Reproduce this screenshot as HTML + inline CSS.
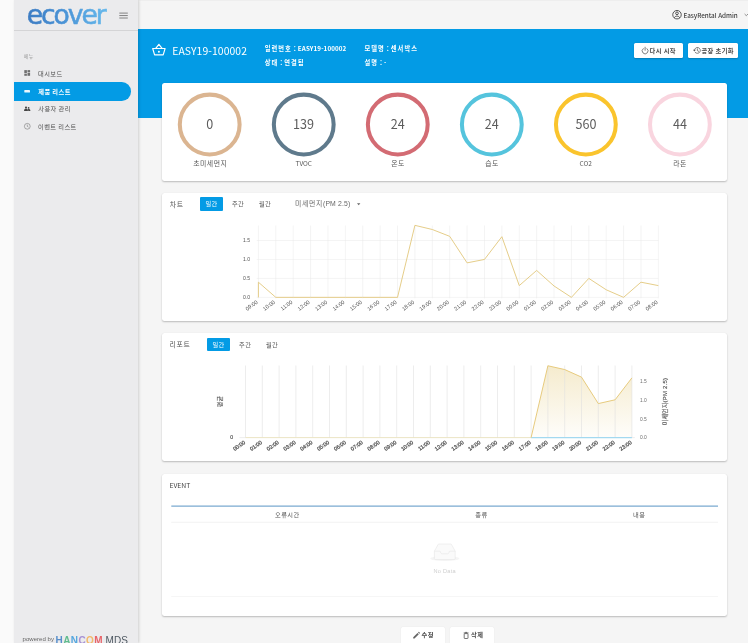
<!DOCTYPE html>
<html lang="ko"><head><meta charset="utf-8"><title>ecover</title><style>
*{box-sizing:border-box;margin:0;padding:0}
html,body{width:748px;height:643px;overflow:hidden;background:#f5f5f5;font-family:"Liberation Sans", "Noto Sans CJK KR", sans-serif;color:#444}
body{position:relative}
.abs{position:absolute}
.t{position:absolute;white-space:nowrap;line-height:1}
#strip{left:0;top:0;width:14px;height:643px;background:#fafafa}
#side{left:14px;top:0;width:123.5px;height:643px;background:#ebebed;box-shadow:1px 0 2.5px rgba(0,0,0,.16)}
#logoline{left:14px;top:29.5px;width:123.5px;height:1.2px;background:#d4d4d6}
#top{left:137.5px;top:0;width:611px;height:29px;background:#f5f5f5;box-shadow:inset 0 1px 0 #eee}
#hero{left:137.5px;top:29px;width:611px;height:89px;background:#039be5}
.card{position:absolute;left:162px;width:564.7px;background:#fff;border-radius:2.5px;box-shadow:0 1px 1.8px rgba(0,0,0,.24),0 0 1px rgba(0,0,0,.06)}
#active{left:14px;top:82.4px;width:117px;height:18.4px;background:#039be5;border-radius:0 9.2px 9.2px 0}
.btn{position:absolute;background:#fff;border-radius:1.5px;box-shadow:0 0.5px 1.5px rgba(0,0,0,.2)}
svg{position:absolute;left:0;top:0;overflow:visible}
svg text{font-family:"Liberation Sans", "Noto Sans CJK KR", sans-serif}
</style></head><body>
<div class="abs" id="strip"></div>
<div class="abs" id="top"></div>
<div class="abs" id="hero"></div>
<div class="abs" id="side"></div>
<div class="abs" id="logoline"></div>
<svg width="748" height="643" viewBox="0 0 748 643" id="logo"><defs><linearGradient id="lg" gradientUnits="userSpaceOnUse" x1="27" y1="0" x2="108" y2="0"><stop offset="0" stop-color="#3d7cc3"/><stop offset="0.45" stop-color="#4a93d6"/><stop offset="1" stop-color="#66b9ec"/></linearGradient></defs><text x="26.7" y="23.7" style="font-family:DejaVu Sans, Liberation Sans, sans-serif" font-size="26.6" letter-spacing="-2.05" fill="url(#lg)" stroke="url(#lg)" stroke-width="0.55" stroke-linejoin="round">ecover</text></svg>
<svg width="748" height="643" viewBox="0 0 748 643"><g stroke="#777" stroke-width="0.9"><path d="M119.3 13.1h8.5M119.3 15.55h8.5M119.3 18h8.5"/></g></svg>
<div class="t" style="left:23.7px;top:53px;font-family:'Noto Sans CJK KR', 'Liberation Sans', sans-serif;font-size:5.06px;color:#9a9a9a"><span style="letter-spacing:0.07em">메뉴</span></div>
<div class="abs" id="active"></div>
<div class="t" style="left:38.0px;top:71px;font-family:'Noto Sans CJK KR', 'Liberation Sans', sans-serif;font-size:6.23px;color:#505050;font-weight:400"><span style="letter-spacing:0.07em">대시보드</span></div>
<div class="t" style="left:38.25px;top:89px;font-family:'Noto Sans CJK KR', 'Liberation Sans', sans-serif;font-size:6.23px;color:#fff;font-weight:700"><span style="letter-spacing:0.07em">제품</span> <span style="letter-spacing:0.07em">리스트</span></div>
<div class="t" style="left:38.25px;top:106px;font-family:'Noto Sans CJK KR', 'Liberation Sans', sans-serif;font-size:6.23px;color:#505050;font-weight:400"><span style="letter-spacing:0.07em">사용자</span> <span style="letter-spacing:0.07em">관리</span></div>
<div class="t" style="left:38.0px;top:124px;font-family:'Noto Sans CJK KR', 'Liberation Sans', sans-serif;font-size:6.23px;color:#505050;font-weight:400"><span style="letter-spacing:0.07em">이벤트</span> <span style="letter-spacing:0.07em">리스트</span></div>
<div class="t" style="left:22.5px;top:636px;font-size:6.05px;color:#666;letter-spacing:0.028px">powered by</div>
<div class="t" style="left:55.55px;top:636px;font-size:10px;font-weight:700;opacity:0.9;letter-spacing:0.39px"><span style="color:#4a86c8">H</span><span style="color:#52b784">A</span><span style="color:#45a0de">N</span><span style="color:#a088d2">C</span><span style="color:#f4b45c">O</span><span style="color:#e8555b">M</span></div>
<div class="t" style="left:105.45px;top:636px;font-size:10px;color:#4e5862;letter-spacing:0.15px">MDS</div>
<div class="t" style="left:683.5px;top:13px;font-family:'Noto Sans CJK KR', 'Liberation Sans', sans-serif;font-size:6.3px;font-weight:500;color:#3c3c3c;letter-spacing:-0.03px">EasyRental Admin</div>
<div class="t" id="title" style="left:172.2px;top:46px;font-family:'Noto Sans CJK KR', 'Liberation Sans', sans-serif;font-size:10.4px;color:#fff;letter-spacing:0.087px">EASY19-100002</div>
<div class="t" style="left:264.65px;top:46px;font-family:'Noto Sans CJK KR', 'Liberation Sans', sans-serif;font-size:6.25px;font-weight:700;color:#fff;letter-spacing:0.12px"><span style="letter-spacing:0.17em">일련번호</span> : EASY19-100002</div>
<div class="t" style="left:264.65px;top:60px;font-family:'Noto Sans CJK KR', 'Liberation Sans', sans-serif;font-size:6.25px;font-weight:700;color:#fff;letter-spacing:0.12px"><span style="letter-spacing:0.17em">상태</span> : <span style="letter-spacing:0.17em">연결됨</span></div>
<div class="t" style="left:364.45px;top:46px;font-family:'Noto Sans CJK KR', 'Liberation Sans', sans-serif;font-size:6.25px;font-weight:700;color:#fff;letter-spacing:0.12px"><span style="letter-spacing:0.17em">모델명</span> : <span style="letter-spacing:0.17em">센서박스</span></div>
<div class="t" style="left:364.45px;top:60px;font-family:'Noto Sans CJK KR', 'Liberation Sans', sans-serif;font-size:6.25px;font-weight:700;color:#fff;letter-spacing:0.12px"><span style="letter-spacing:0.17em">설명</span> : -</div>
<div class="btn" style="left:633.8px;top:42.6px;width:49.2px;height:15.4px"></div>
<div class="btn" style="left:688.1px;top:42.6px;width:49.5px;height:15.4px"></div>
<div class="t" style="left:649.6px;top:48px;font-family:'Noto Sans CJK KR', 'Liberation Sans', sans-serif;font-size:6.23px;font-weight:700;color:#484848"><span style="letter-spacing:0.07em">다시</span> <span style="letter-spacing:0.07em">시작</span></div>
<div class="t" style="left:701.4px;top:48px;font-family:'Noto Sans CJK KR', 'Liberation Sans', sans-serif;font-size:6.23px;font-weight:700;color:#484848"><span style="letter-spacing:0.07em">공장</span> <span style="letter-spacing:0.07em">초기화</span></div>
<div class="card" style="top:83.2px;height:97.8px"></div>
<div class="card" style="top:192.8px;height:128.4px"></div>
<div class="card" style="top:332.9px;height:128.6px"></div>
<div class="card" style="top:473.8px;height:142px"></div>
<div class="t" style="left:206.2px;top:118px;font-family:'Noto Sans CJK KR', 'Liberation Sans', sans-serif;font-size:12.6px;color:#5c5c5c">0</div>
<div class="t" style="left:193.32px;top:160px;font-family:'Noto Sans CJK KR', 'Liberation Sans', sans-serif;font-size:6.85px;color:#555"><span style="letter-spacing:0.07em">초미세먼지</span></div>
<div class="t" style="left:293.12px;top:118px;font-family:'Noto Sans CJK KR', 'Liberation Sans', sans-serif;font-size:12.6px;color:#5c5c5c">139</div>
<div class="t" style="left:295.49px;top:160px;font-family:'Noto Sans CJK KR', 'Liberation Sans', sans-serif;font-size:6.5px;color:#555">TVOC</div>
<div class="t" style="left:390.78px;top:118px;font-family:'Noto Sans CJK KR', 'Liberation Sans', sans-serif;font-size:12.6px;color:#5c5c5c">24</div>
<div class="t" style="left:391.28px;top:160px;font-family:'Noto Sans CJK KR', 'Liberation Sans', sans-serif;font-size:6.85px;color:#555"><span style="letter-spacing:0.07em">온도</span></div>
<div class="t" style="left:484.82px;top:118px;font-family:'Noto Sans CJK KR', 'Liberation Sans', sans-serif;font-size:12.6px;color:#5c5c5c">24</div>
<div class="t" style="left:485.32px;top:160px;font-family:'Noto Sans CJK KR', 'Liberation Sans', sans-serif;font-size:6.85px;color:#555"><span style="letter-spacing:0.07em">습도</span></div>
<div class="t" style="left:575.48px;top:118px;font-family:'Noto Sans CJK KR', 'Liberation Sans', sans-serif;font-size:12.6px;color:#5c5c5c">560</div>
<div class="t" style="left:579.61px;top:160px;font-family:'Noto Sans CJK KR', 'Liberation Sans', sans-serif;font-size:6.5px;color:#555">CO2</div>
<div class="t" style="left:673.03px;top:118px;font-family:'Noto Sans CJK KR', 'Liberation Sans', sans-serif;font-size:12.6px;color:#5c5c5c">44</div>
<div class="t" style="left:673.28px;top:160px;font-family:'Noto Sans CJK KR', 'Liberation Sans', sans-serif;font-size:6.85px;color:#555"><span style="letter-spacing:0.07em">라돈</span></div>
<svg width="748" height="643" viewBox="0 0 748 643" id="gsvg"><circle cx="209.70" cy="124.5" r="29.9" fill="none" stroke="#dbb591" stroke-width="4.05"/><circle cx="303.74" cy="124.5" r="29.9" fill="none" stroke="#5f7a8c" stroke-width="4.05"/><circle cx="397.78" cy="124.5" r="29.9" fill="none" stroke="#d36b73" stroke-width="4.05"/><circle cx="491.82" cy="124.5" r="29.9" fill="none" stroke="#55c4dd" stroke-width="4.05"/><circle cx="585.86" cy="124.5" r="29.9" fill="none" stroke="#fac42d" stroke-width="4.05"/><circle cx="679.90" cy="124.5" r="29.9" fill="none" stroke="#f9d5df" stroke-width="4.05"/></svg>
<div class="t" style="left:169.8px;top:201px;font-family:'Noto Sans CJK KR', 'Liberation Sans', sans-serif;font-size:6.85px;color:#555"><span style="letter-spacing:0.1em">차트</span></div>
<div class="abs" style="left:200px;top:197.2px;width:22.6px;height:13.7px;background:#039be5;border-radius:1px"></div>
<div class="t" style="left:205.38px;top:201px;font-family:'Noto Sans CJK KR', 'Liberation Sans', sans-serif;font-size:6.23px;color:#555;color:#fff"><span style="letter-spacing:0.07em">일간</span></div>
<div class="t" style="left:231.95px;top:201px;font-family:'Noto Sans CJK KR', 'Liberation Sans', sans-serif;font-size:6.23px;color:#555"><span style="letter-spacing:0.07em">주간</span></div>
<div class="t" style="left:258.9px;top:201px;font-family:'Noto Sans CJK KR', 'Liberation Sans', sans-serif;font-size:6.23px;color:#555"><span style="letter-spacing:0.07em">월간</span></div>
<div class="t" style="left:295.05px;top:201px;font-size:6.85px;color:#666;letter-spacing:0.145px"><span style="letter-spacing:0.1em">미세먼지</span>(PM 2.5)</div>
<svg width="748" height="643" viewBox="0 0 748 643"><path d="M357 203.3h3.4l-1.7 1.9z" fill="#666"/></svg>
<svg width="748" height="643" viewBox="0 0 748 643" id="c1"><g stroke="#e9e9e9" stroke-width="0.5" fill="none"><path d="M258.40 225.5V298.35"/><path d="M275.79 225.5V298.35"/><path d="M293.18 225.5V298.35"/><path d="M310.57 225.5V298.35"/><path d="M327.96 225.5V298.35"/><path d="M345.35 225.5V298.35"/><path d="M362.74 225.5V298.35"/><path d="M380.13 225.5V298.35"/><path d="M397.52 225.5V298.35"/><path d="M414.91 225.5V298.35"/><path d="M432.30 225.5V298.35"/><path d="M449.69 225.5V298.35"/><path d="M467.08 225.5V298.35"/><path d="M484.47 225.5V298.35"/><path d="M501.86 225.5V298.35"/><path d="M519.25 225.5V298.35"/><path d="M536.64 225.5V298.35"/><path d="M554.03 225.5V298.35"/><path d="M571.42 225.5V298.35"/><path d="M588.81 225.5V298.35"/><path d="M606.20 225.5V298.35"/><path d="M623.59 225.5V298.35"/><path d="M640.98 225.5V298.35"/><path d="M658.37 225.5V298.35"/><path d="M256.70 297.35H658.37"/><path d="M256.70 278.40H658.37"/><path d="M256.70 259.45H658.37"/><path d="M256.70 240.50H658.37"/></g><polyline points="258.40,297.35 258.40,282.19 275.79,297.35 293.18,297.35 310.57,297.35 327.96,297.35 345.35,297.35 362.74,297.35 380.13,297.35 397.52,297.35 414.91,225.34 432.30,229.51 449.69,236.33 467.08,262.86 484.47,259.45 501.86,236.71 519.25,285.60 536.64,270.44 554.03,285.98 571.42,297.35 588.81,278.40 606.20,289.77 623.59,297.35 640.98,282.19 658.37,285.60" fill="none" stroke="#e2c77c" stroke-width="0.9" stroke-linejoin="round"/><text x="250" y="299.15" font-size="5.06" fill="#555" text-anchor="end">0.0</text><text x="250" y="280.20" font-size="5.06" fill="#555" text-anchor="end">0.5</text><text x="250" y="261.25" font-size="5.06" fill="#555" text-anchor="end">1.0</text><text x="250" y="242.30" font-size="5.06" fill="#555" text-anchor="end">1.5</text><text transform="translate(258.10 302.95) rotate(-36)" font-size="5.4" fill="#555" text-anchor="end">09:00</text><text transform="translate(275.49 302.95) rotate(-36)" font-size="5.4" fill="#555" text-anchor="end">10:00</text><text transform="translate(292.88 302.95) rotate(-36)" font-size="5.4" fill="#555" text-anchor="end">11:00</text><text transform="translate(310.27 302.95) rotate(-36)" font-size="5.4" fill="#555" text-anchor="end">12:00</text><text transform="translate(327.66 302.95) rotate(-36)" font-size="5.4" fill="#555" text-anchor="end">13:00</text><text transform="translate(345.05 302.95) rotate(-36)" font-size="5.4" fill="#555" text-anchor="end">14:00</text><text transform="translate(362.44 302.95) rotate(-36)" font-size="5.4" fill="#555" text-anchor="end">15:00</text><text transform="translate(379.83 302.95) rotate(-36)" font-size="5.4" fill="#555" text-anchor="end">16:00</text><text transform="translate(397.22 302.95) rotate(-36)" font-size="5.4" fill="#555" text-anchor="end">17:00</text><text transform="translate(414.61 302.95) rotate(-36)" font-size="5.4" fill="#555" text-anchor="end">18:00</text><text transform="translate(432.00 302.95) rotate(-36)" font-size="5.4" fill="#555" text-anchor="end">19:00</text><text transform="translate(449.39 302.95) rotate(-36)" font-size="5.4" fill="#555" text-anchor="end">20:00</text><text transform="translate(466.78 302.95) rotate(-36)" font-size="5.4" fill="#555" text-anchor="end">21:00</text><text transform="translate(484.17 302.95) rotate(-36)" font-size="5.4" fill="#555" text-anchor="end">22:00</text><text transform="translate(501.56 302.95) rotate(-36)" font-size="5.4" fill="#555" text-anchor="end">23:00</text><text transform="translate(518.95 302.95) rotate(-36)" font-size="5.4" fill="#555" text-anchor="end">00:00</text><text transform="translate(536.34 302.95) rotate(-36)" font-size="5.4" fill="#555" text-anchor="end">01:00</text><text transform="translate(553.73 302.95) rotate(-36)" font-size="5.4" fill="#555" text-anchor="end">02:00</text><text transform="translate(571.12 302.95) rotate(-36)" font-size="5.4" fill="#555" text-anchor="end">03:00</text><text transform="translate(588.51 302.95) rotate(-36)" font-size="5.4" fill="#555" text-anchor="end">04:00</text><text transform="translate(605.90 302.95) rotate(-36)" font-size="5.4" fill="#555" text-anchor="end">05:00</text><text transform="translate(623.29 302.95) rotate(-36)" font-size="5.4" fill="#555" text-anchor="end">06:00</text><text transform="translate(640.68 302.95) rotate(-36)" font-size="5.4" fill="#555" text-anchor="end">07:00</text><text transform="translate(658.07 302.95) rotate(-36)" font-size="5.4" fill="#555" text-anchor="end">08:00</text></svg>
<div class="t" style="left:169.55px;top:341px;font-family:'Noto Sans CJK KR', 'Liberation Sans', sans-serif;font-size:6.85px;color:#555"><span style="letter-spacing:0.1em">리포트</span></div>
<div class="abs" style="left:206.9px;top:338.3px;width:23.1px;height:12.9px;background:#039be5;border-radius:1px"></div>
<div class="t" style="left:212.42px;top:342px;font-family:'Noto Sans CJK KR', 'Liberation Sans', sans-serif;font-size:6.23px;color:#555;color:#fff"><span style="letter-spacing:0.07em">일간</span></div>
<div class="t" style="left:239.0px;top:342px;font-family:'Noto Sans CJK KR', 'Liberation Sans', sans-serif;font-size:6.23px;color:#555"><span style="letter-spacing:0.07em">주간</span></div>
<div class="t" style="left:265.9px;top:342px;font-family:'Noto Sans CJK KR', 'Liberation Sans', sans-serif;font-size:6.23px;color:#555"><span style="letter-spacing:0.07em">월간</span></div>
<svg width="748" height="643" viewBox="0 0 748 643" id="c2"><defs><linearGradient id="ag" x1="0" y1="0" x2="0" y2="1"><stop offset="0" stop-color="#ecd9a0" stop-opacity="0.52"/><stop offset="1" stop-color="#ecd9a0" stop-opacity="0.05"/></linearGradient></defs><polygon points="245.50,437.60 245.50,437.60 262.30,437.60 279.10,437.60 295.90,437.60 312.70,437.60 329.50,437.60 346.30,437.60 363.10,437.60 379.90,437.60 396.70,437.60 413.50,437.60 430.30,437.60 447.10,437.60 463.90,437.60 480.70,437.60 497.50,437.60 514.30,437.60 531.10,437.60 547.90,365.78 564.70,369.56 581.50,377.12 598.30,403.58 615.10,399.80 631.90,377.88 631.90,437.60" fill="url(#ag)"/><g stroke="#dedede" stroke-width="0.55" fill="none"><path d="M245.50 365.5V437.60"/><path d="M262.30 365.5V437.60"/><path d="M279.10 365.5V437.60"/><path d="M295.90 365.5V437.60"/><path d="M312.70 365.5V437.60"/><path d="M329.50 365.5V437.60"/><path d="M346.30 365.5V437.60"/><path d="M363.10 365.5V437.60"/><path d="M379.90 365.5V437.60"/><path d="M396.70 365.5V437.60"/><path d="M413.50 365.5V437.60"/><path d="M430.30 365.5V437.60"/><path d="M447.10 365.5V437.60"/><path d="M463.90 365.5V437.60"/><path d="M480.70 365.5V437.60"/><path d="M497.50 365.5V437.60"/><path d="M514.30 365.5V437.60"/><path d="M531.10 365.5V437.60"/><path d="M547.90 365.5V437.60"/><path d="M564.70 365.5V437.60"/><path d="M581.50 365.5V437.60"/><path d="M598.30 365.5V437.60"/><path d="M615.10 365.5V437.60"/><path d="M631.90 365.5V437.60"/><path d="M239.50 437.60H245.50M631.90 437.60h3"/></g><path d="M531.10 437.60H631.90" stroke="#a3d9f0" stroke-width="1.3"/><path d="M245.50 437.60H531.10" stroke="#e9e2bd" stroke-width="0.9"/><polyline points="531.10,437.60 547.90,365.78 564.70,369.56 581.50,377.12 598.30,403.58 615.10,399.80 631.90,377.88" fill="none" stroke="#e6c878" stroke-width="0.95" stroke-linejoin="round"/><text x="233" y="439.40" font-size="5.06" fill="#555" stroke="#555" stroke-width="0.2" text-anchor="end">0</text><text x="640" y="439.40" font-size="4.9" fill="#6e6e6e">0.0</text><text x="640" y="420.50" font-size="4.9" fill="#6e6e6e">0.5</text><text x="640" y="401.60" font-size="4.9" fill="#6e6e6e">1.0</text><text x="640" y="382.70" font-size="4.9" fill="#6e6e6e">1.5</text><text transform="translate(245.70 443.20) rotate(-35)" font-size="5.4" fill="#555" stroke="#555" stroke-width="0.25" text-anchor="end">00:00</text><text transform="translate(262.50 443.20) rotate(-35)" font-size="5.4" fill="#555" stroke="#555" stroke-width="0.25" text-anchor="end">01:00</text><text transform="translate(279.30 443.20) rotate(-35)" font-size="5.4" fill="#555" stroke="#555" stroke-width="0.25" text-anchor="end">02:00</text><text transform="translate(296.10 443.20) rotate(-35)" font-size="5.4" fill="#555" stroke="#555" stroke-width="0.25" text-anchor="end">03:00</text><text transform="translate(312.90 443.20) rotate(-35)" font-size="5.4" fill="#555" stroke="#555" stroke-width="0.25" text-anchor="end">04:00</text><text transform="translate(329.70 443.20) rotate(-35)" font-size="5.4" fill="#555" stroke="#555" stroke-width="0.25" text-anchor="end">05:00</text><text transform="translate(346.50 443.20) rotate(-35)" font-size="5.4" fill="#555" stroke="#555" stroke-width="0.25" text-anchor="end">06:00</text><text transform="translate(363.30 443.20) rotate(-35)" font-size="5.4" fill="#555" stroke="#555" stroke-width="0.25" text-anchor="end">07:00</text><text transform="translate(380.10 443.20) rotate(-35)" font-size="5.4" fill="#555" stroke="#555" stroke-width="0.25" text-anchor="end">08:00</text><text transform="translate(396.90 443.20) rotate(-35)" font-size="5.4" fill="#555" stroke="#555" stroke-width="0.25" text-anchor="end">09:00</text><text transform="translate(413.70 443.20) rotate(-35)" font-size="5.4" fill="#555" stroke="#555" stroke-width="0.25" text-anchor="end">10:00</text><text transform="translate(430.50 443.20) rotate(-35)" font-size="5.4" fill="#555" stroke="#555" stroke-width="0.25" text-anchor="end">11:00</text><text transform="translate(447.30 443.20) rotate(-35)" font-size="5.4" fill="#555" stroke="#555" stroke-width="0.25" text-anchor="end">12:00</text><text transform="translate(464.10 443.20) rotate(-35)" font-size="5.4" fill="#555" stroke="#555" stroke-width="0.25" text-anchor="end">13:00</text><text transform="translate(480.90 443.20) rotate(-35)" font-size="5.4" fill="#555" stroke="#555" stroke-width="0.25" text-anchor="end">14:00</text><text transform="translate(497.70 443.20) rotate(-35)" font-size="5.4" fill="#555" stroke="#555" stroke-width="0.25" text-anchor="end">15:00</text><text transform="translate(514.50 443.20) rotate(-35)" font-size="5.4" fill="#555" stroke="#555" stroke-width="0.25" text-anchor="end">16:00</text><text transform="translate(531.30 443.20) rotate(-35)" font-size="5.4" fill="#555" stroke="#555" stroke-width="0.25" text-anchor="end">17:00</text><text transform="translate(548.10 443.20) rotate(-35)" font-size="5.4" fill="#555" stroke="#555" stroke-width="0.25" text-anchor="end">18:00</text><text transform="translate(564.90 443.20) rotate(-35)" font-size="5.4" fill="#555" stroke="#555" stroke-width="0.25" text-anchor="end">19:00</text><text transform="translate(581.70 443.20) rotate(-35)" font-size="5.4" fill="#555" stroke="#555" stroke-width="0.25" text-anchor="end">20:00</text><text transform="translate(598.50 443.20) rotate(-35)" font-size="5.4" fill="#555" stroke="#555" stroke-width="0.25" text-anchor="end">21:00</text><text transform="translate(615.30 443.20) rotate(-35)" font-size="5.4" fill="#555" stroke="#555" stroke-width="0.25" text-anchor="end">22:00</text><text transform="translate(632.10 443.20) rotate(-35)" font-size="5.4" fill="#555" stroke="#555" stroke-width="0.25" text-anchor="end">23:00</text><text transform="translate(221.5 401.5) rotate(-90)" font-size="6" fill="#555" stroke="#555" stroke-width="0.15" text-anchor="middle" letter-spacing="0.3">평균</text><text transform="translate(666.9 401.6) rotate(-90)" font-size="6" fill="#555" stroke="#555" stroke-width="0.15" text-anchor="middle" letter-spacing="0.2">미세먼지(PM 2.5)</text></svg>
<div class="t" style="left:169.45px;top:482px;font-family:'Noto Sans CJK KR', 'Liberation Sans', sans-serif;font-size:6.8px;color:#444">EVENT</div>
<svg width="748" height="643" viewBox="0 0 748 643"><path d="M171.3 506.2H718" stroke="#7aaad0" stroke-width="1.3"/><path d="M171.3 522.3H718" stroke="#ededed" stroke-width="0.7"/><path d="M171.3 596.5H718" stroke="#f2f2f2" stroke-width="0.7"/></svg>
<div class="t" style="left:274.98px;top:512px;font-family:'Noto Sans CJK KR', 'Liberation Sans', sans-serif;font-size:6.23px;color:#555"><span style="letter-spacing:0.07em">오류시간</span></div>
<div class="t" style="left:475.32px;top:512px;font-family:'Noto Sans CJK KR', 'Liberation Sans', sans-serif;font-size:6.23px;color:#555"><span style="letter-spacing:0.07em">종류</span></div>
<div class="t" style="left:633.1px;top:512px;font-family:'Noto Sans CJK KR', 'Liberation Sans', sans-serif;font-size:6.23px;color:#555"><span style="letter-spacing:0.07em">내용</span></div>
<div class="t" style="left:433.55px;top:569px;font-size:5.6px;color:#cfcfcf;letter-spacing:0.267px">No Data</div>
<div class="btn" style="left:400.9px;top:627.1px;width:44px;height:18px;box-shadow:0 0.3px 1.2px rgba(0,0,0,.1)"></div>
<div class="btn" style="left:450.2px;top:627.1px;width:44.1px;height:18px;box-shadow:0 0.3px 1.2px rgba(0,0,0,.1)"></div>
<div class="t" style="left:421.55px;top:632px;font-family:'Noto Sans CJK KR', 'Liberation Sans', sans-serif;font-size:6.23px;font-weight:700;color:#484848"><span style="letter-spacing:0.07em">수정</span></div>
<div class="t" style="left:471.08px;top:632px;font-family:'Noto Sans CJK KR', 'Liberation Sans', sans-serif;font-size:6.23px;font-weight:700;color:#484848"><span style="letter-spacing:0.07em">삭제</span></div>
<svg width="748" height="643" viewBox="0 0 748 643" id="icons">
<g fill="#5a5a5a" opacity="0.85"><rect x="24.3" y="70.1" width="2.6" height="3.2"/><rect x="24.3" y="73.9" width="2.6" height="1.9"/><rect x="27.5" y="70.1" width="2.6" height="1.9"/><rect x="27.5" y="72.6" width="2.6" height="3.2"/></g>
<rect x="24.3" y="89.9" width="5.7" height="2.7" rx="0.7" fill="#fff" opacity="0.92"/>
<g fill="#444"><circle cx="26" cy="107.6" r="1.05"/><circle cx="28.6" cy="107.9" r="0.85"/><path d="M24.1 110.9v-0.7c0-0.9 1.2-1.35 1.9-1.35s1.9 0.45 1.9 1.35v0.7z"/><path d="M28.2 110.9v-0.75c0-0.5-0.25-0.85-0.6-1.1 0.3-0.1 0.7-0.15 1-0.15 0.7 0 1.7 0.4 1.7 1.2v0.8z"/></g>
<g fill="none" stroke="#777" stroke-width="0.6"><circle cx="27.3" cy="126.3" r="2.9"/><path d="M27.3 124.6v1.8l1.2 0.7"/></g>
<g fill="none" stroke="#fff" stroke-width="1.15" stroke-linejoin="round" stroke-linecap="round"><path d="M152.7 48.5H165.1L163.2 54.9H154.6Z"/><path d="M155.7 48.3L158.9 44.3L162.1 48.3"/></g><circle cx="158.9" cy="51.7" r="0.95" fill="#fff"/>
<g fill="none" stroke="#3a3a3a" stroke-width="0.85"><circle cx="677" cy="14.7" r="4.25"/><circle cx="677" cy="13.3" r="1.35"/><path d="M674.2 17.7c0.7-1.1 1.7-1.6 2.8-1.6s2.1 0.5 2.8 1.6"/></g>
<path d="M744.6 14l1.7 1.7 1.7-1.7" fill="none" stroke="#666" stroke-width="0.7"/>
<g fill="none" stroke="#555" stroke-width="0.75" stroke-linecap="round"><path d="M643.2 48.6a2.95 2.95 0 1 0 3.8 0"/><path d="M645.1 47.2v3.1"/></g>
<g fill="none" stroke="#555" stroke-width="0.75" stroke-linecap="round"><path d="M694.4 50.4a2.95 2.95 0 1 1 0.85 2.1"/><path d="M697.35 48.8v1.8l1.3 0.75"/></g><path d="M693 49.8h2.8l-1.4 1.6z" fill="#555"/>
<path d="M413.2 638.6v-1.3l4.3-4.3 1.3 1.3-4.3 4.3zM418 632.5l0.6-0.6c0.15-0.15 0.35-0.15 0.5 0l0.8 0.8c0.15 0.15 0.15 0.35 0 0.5l-0.6 0.6z" fill="#666"/>
<g fill="none" stroke="#555" stroke-width="0.8"><rect x="464.2" y="633.6" width="3.8" height="4.9" rx="0.5"/></g><path d="M463.7 632.9h4.8M465.2 632.4h1.8" stroke="#555" stroke-width="0.8" fill="none"/>
<ellipse cx="444.8" cy="558.5" rx="14.5" ry="2.6" fill="#f5f5f5"/>
<g fill="#fafafa" stroke="#dcdcdc" stroke-width="0.4" stroke-linejoin="round"><path d="M455.2 551.2l-3.6-6.6c-0.2-0.4-0.5-0.6-0.9-0.6h-11.8c-0.4 0-0.7 0.2-0.9 0.6l-3.6 6.6v7.2c0 0.7 0.5 1.2 1.1 1.2h18.6c0.6 0 1.1-0.5 1.1-1.2z"/><path d="M434.4 551.2h5.3c0.5 0 0.8 0.4 0.8 0.9 0 0.9 0.7 1.7 1.6 1.7h5.4c0.9 0 1.6-0.8 1.6-1.7 0-0.5 0.3-0.9 0.8-0.9h5.3"/></g>
</svg>
</body></html>
